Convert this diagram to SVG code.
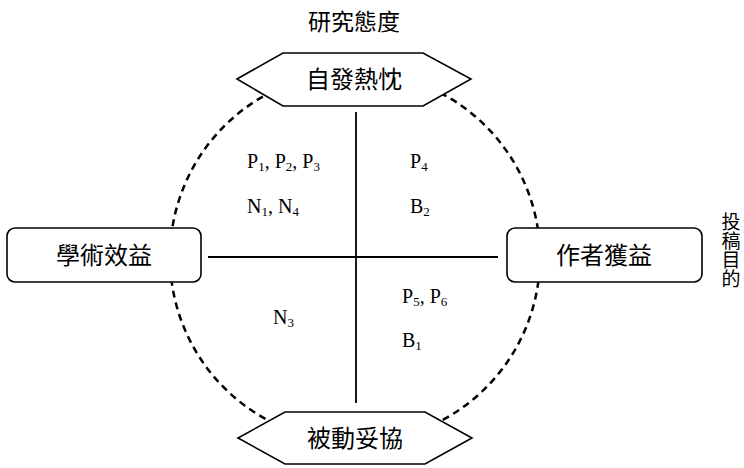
<svg xmlns="http://www.w3.org/2000/svg" width="744" height="468" viewBox="0 0 744 468">
<style>
.cjk{font-family:"Noto Sans CJK TC","Noto Sans CJK SC",sans-serif;fill:#000;}
.lbl{font-family:"Liberation Serif",serif;font-size:20px;fill:#000;}
.sub{font-size:13px;}
.shape{fill:#fff;stroke:#000;stroke-width:1.6;}
</style>
<rect width="744" height="468" fill="#fff"/>
<g id="connectors">
<circle cx="355" cy="257" r="185" fill="none" stroke="#000" stroke-width="2.5" stroke-dasharray="7,5"/>
<line x1="356" y1="112" x2="356" y2="403" stroke="#000" stroke-width="1.8"/>
<line x1="208" y1="257" x2="498" y2="257" stroke="#000" stroke-width="1.8"/>
</g>
<text class="cjk" x="354" y="30" font-size="23" text-anchor="middle">研究態度</text>
<text id="axis-y" class="cjk" x="731" y="212" font-size="19" style="writing-mode:vertical-rl">投稿目的</text>
<g id="top">
<polygon class="shape" points="237,79 283,53 423,53 471,79 423,106 283,106"/>
<text class="cjk" x="354" y="88" font-size="24" text-anchor="middle">自發熱忱</text>
</g>
<g id="bottom">
<polygon class="shape" points="238,438 285,412 425,412 472,438 425,464 285,464"/>
<text class="cjk" x="355" y="447" font-size="24" text-anchor="middle">被動妥協</text>
</g>
<g id="left">
<rect class="shape" x="7" y="228" width="194" height="54" rx="8"/>
<text class="cjk" x="104" y="264" font-size="24" text-anchor="middle">學術效益</text>
</g>
<g id="right">
<rect class="shape" x="507" y="228" width="195" height="54" rx="8"/>
<text class="cjk" x="604" y="264" font-size="24" text-anchor="middle">作者獲益</text>
</g>
<g id="labels" class="lbl">
<text x="247" y="168">P<tspan class="sub" dy="3">1</tspan><tspan dy="-3">, P</tspan><tspan class="sub" dy="3">2</tspan><tspan dy="-3">, P</tspan><tspan class="sub" dy="3">3</tspan></text>
<text x="247" y="213">N<tspan class="sub" dy="3">1</tspan><tspan dy="-3">, N</tspan><tspan class="sub" dy="3">4</tspan></text>
<text x="410" y="168">P<tspan class="sub" dy="3">4</tspan></text>
<text x="410" y="213">B<tspan class="sub" dy="3">2</tspan></text>
<text x="402" y="303">P<tspan class="sub" dy="3">5</tspan><tspan dy="-3">, P</tspan><tspan class="sub" dy="3">6</tspan></text>
<text x="402" y="347">B<tspan class="sub" dy="3">1</tspan></text>
<text x="273" y="324">N<tspan class="sub" dy="3">3</tspan></text>
</g>
</svg>
